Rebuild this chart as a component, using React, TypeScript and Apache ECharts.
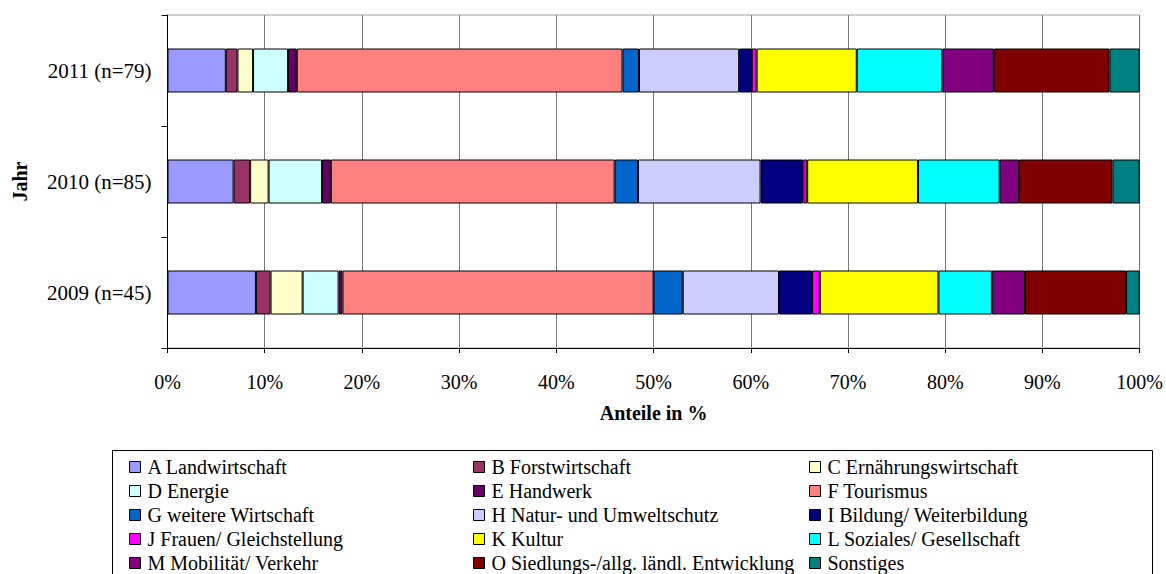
import React, { useEffect, useRef } from 'react';
import * as echarts from 'echarts';

const years = ['2009 (n=45)', '2010 (n=85)', '2011 (n=79)'];

const seriesNames = [
  'A Landwirtschaft',
  'B Forstwirtschaft',
  'C Ernährungswirtschaft',
  'D Energie',
  'E Handwerk',
  'F Tourismus',
  'G weitere Wirtschaft',
  'H Natur- und Umweltschutz',
  'I Bildung/ Weiterbildung',
  'J Frauen/ Gleichstellung',
  'K Kultur',
  'L Soziales/ Gesellschaft',
  'M Mobilität/ Verkehr',
  'O Siedlungs-/allg. ländl. Entwicklung',
  'Sonstiges',
];

const colors = [
  '#9999FF', '#993366', '#FFFFCC', '#CCFFFF', '#660066',
  '#FF8080', '#0066CC', '#CCCCFF', '#000080', '#FF00FF',
  '#FFFF00', '#00FFFF', '#800080', '#800000', '#008080',
];

// values in % for [2009, 2010, 2011]
const landwirtschaft = [9.1, 6.8, 6.0];
const forstwirtschaft = [1.5, 1.7, 1.2];
const ernaehrung = [3.3, 1.9, 1.6];
const energie = [3.7, 5.5, 3.6];
const handwerk = [0.4, 0.9, 0.9];
const tourismus = [32.0, 29.2, 33.5];
const weitereWirtschaft = [3.0, 2.4, 1.7];
const naturUmwelt = [9.9, 12.6, 10.3];
const bildung = [3.4, 4.4, 1.3];
const frauen = [0.8, 0.4, 0.5];
const kultur = [12.2, 11.4, 10.3];
const soziales = [5.5, 8.4, 8.8];
const mobilitaet = [3.4, 2.0, 5.3];
const siedlung = [10.4, 9.6, 11.9];
const sonstiges = [1.4, 2.8, 3.1];

const xTicks = [0, 10, 20, 30, 40, 50, 60, 70, 80, 90, 100];

const allValues = [
  landwirtschaft, forstwirtschaft, ernaehrung, energie, handwerk,
  tourismus, weitereWirtschaft, naturUmwelt, bildung, frauen,
  kultur, soziales, mobilitaet, siedlung, sonstiges,
];

const FONT = 'Times New Roman, Liberation Serif, serif';

export default function App() {
  const ref = useRef<HTMLDivElement>(null);

  useEffect(() => {
    document.body.style.margin = '0';
    if (!ref.current) return;
    const chart = echarts.init(ref.current, null, { renderer: 'svg' });

    const colLefts = [129, 473, 809];
    const legends = [0, 1, 2].map((col) => ({
      orient: 'vertical',
      left: colLefts[col],
      top: 457,
      padding: 0,
      itemGap: 4,
      itemWidth: 11,
      itemHeight: 11,
      icon: 'rect',
      selectedMode: false,
      itemStyle: { borderColor: '#000', borderWidth: 1 },
      textStyle: { fontFamily: FONT, fontSize: 20, color: '#000', padding: [0, 0, 0, 2] },
      data: seriesNames.filter((_, i) => i % 3 === col),
    }));

    chart.setOption({
      animation: false,
      color: colors,
      textStyle: { fontFamily: FONT },
      grid: {
        left: 167.5,
        right: 23,
        top: 15,
        bottom: 226,
        show: true,
        borderColor: '#a0a0a0',
        borderWidth: 1,
        backgroundColor: 'transparent',
      },
      legend: legends,
      xAxis: {
        type: 'value',
        min: xTicks[0],
        max: xTicks[xTicks.length - 1],
        interval: 10,
        axisLine: { show: true, lineStyle: { color: '#000', width: 1 } },
        axisTick: { show: true, length: 5, lineStyle: { color: '#000' } },
        splitLine: { show: true, lineStyle: { color: '#777', width: 1 } },
        axisLabel: {
          formatter: '{value}%',
          fontFamily: FONT,
          fontSize: 20,
          color: '#000',
          margin: 24,
        },
        name: 'Anteile in %',
        nameLocation: 'middle',
        nameGap: 55,
        nameTextStyle: { fontFamily: FONT, fontSize: 20, fontWeight: 'bold', color: '#000' },
      },
      yAxis: {
        type: 'category',
        data: years,
        axisLine: { show: true, lineStyle: { color: '#000', width: 1 } },
        axisTick: { show: true, length: 6, lineStyle: { color: '#000' } },
        axisLabel: { fontFamily: FONT, fontSize: 21, color: '#000', margin: 16 },
        name: 'Jahr',
        nameLocation: 'middle',
        nameGap: 138,
        nameRotate: 90,
        nameTextStyle: { fontFamily: FONT, fontSize: 20, fontWeight: 'bold', color: '#000' },
      },
      graphic: [
        {
          type: 'rect',
          shape: { x: 112.5, y: 450.5, width: 1040, height: 200 },
          style: { fill: 'none', stroke: '#000', lineWidth: 1 },
          silent: true,
          z: -1,
        },
      ],
      series: seriesNames.map((name, i) => ({
        name,
        type: 'bar',
        stack: 'total',
        barWidth: 44,
        data: allValues[i],
        itemStyle: { color: colors[i], borderColor: '#000', borderWidth: 1 },
      })),
    });

    return () => {
      chart.dispose();
    };
  }, []);

  return <div ref={ref} style={{ width: 1166, height: 574 }} />;
}
